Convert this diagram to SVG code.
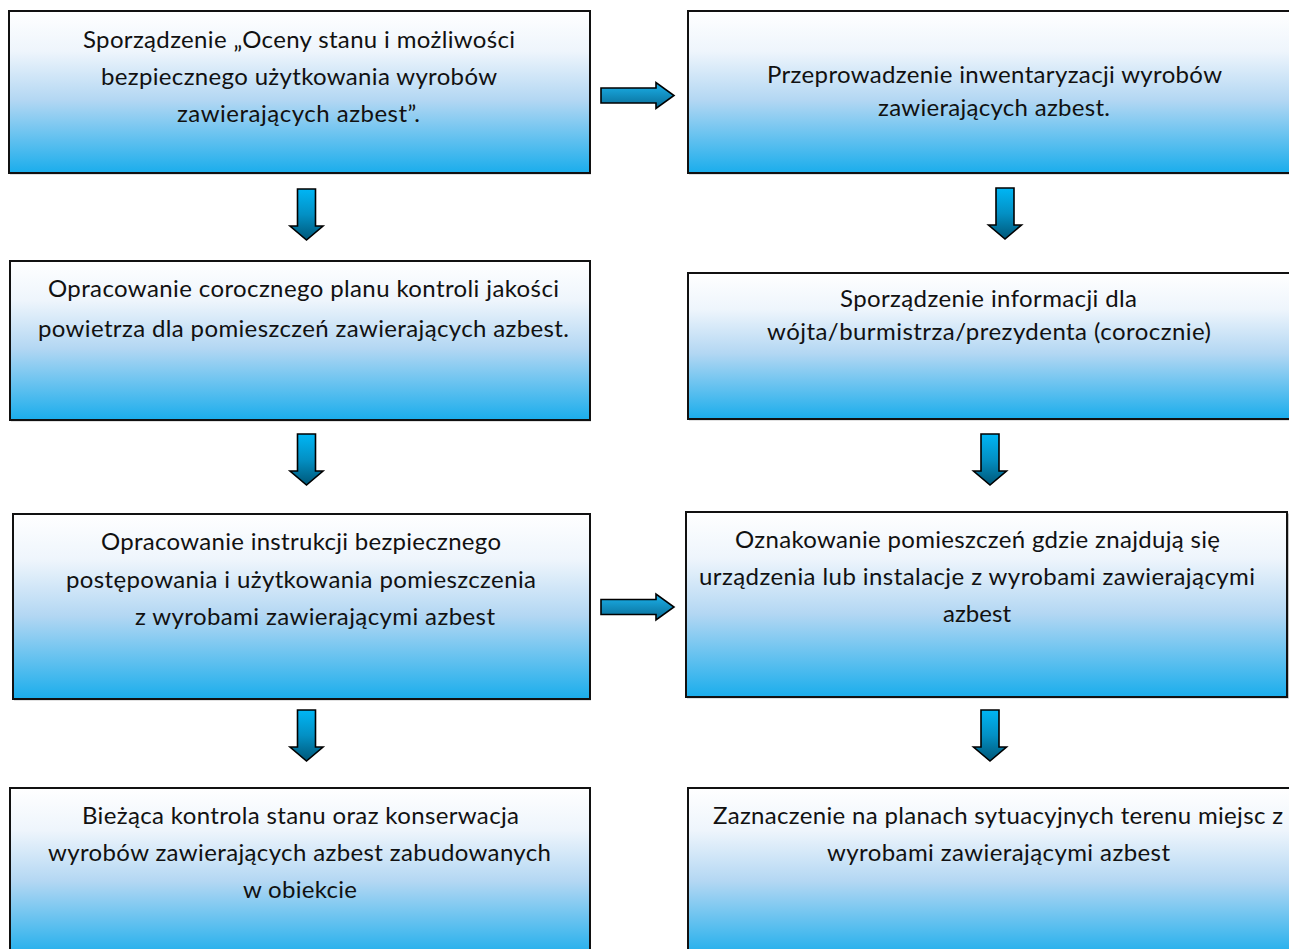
<svg xmlns="http://www.w3.org/2000/svg" xmlns:xlink="http://www.w3.org/1999/xlink" width="1289" height="949" viewBox="0 0 1289 949">
<style>
.box{fill:url(#boxGrad);stroke:#111;stroke-width:2}
.shadow{fill:#c4c4c4}
.t{font-family:Lato,"Open Sans","Liberation Sans",sans-serif;font-size:24px;fill:#111;text-anchor:middle}
.down{fill:url(#arrGradV);stroke:#000;stroke-width:1.6;stroke-linejoin:miter}
.right{fill:url(#arrGradH);stroke:#000;stroke-width:1.6;stroke-linejoin:miter}
</style>
<defs>
<linearGradient id="boxGrad" x1="0" y1="0" x2="0" y2="1">
<stop offset="0" stop-color="#ffffff"/>
<stop offset="0.25" stop-color="#eef5fc"/>
<stop offset="0.55" stop-color="#b3d7f3"/>
<stop offset="1" stop-color="#1aadec"/>
</linearGradient>
<linearGradient id="arrGradV" x1="0" y1="0" x2="0" y2="1">
<stop offset="0" stop-color="#00b6f5"/>
<stop offset="0.5" stop-color="#0390c4"/>
<stop offset="1" stop-color="#005778"/>
</linearGradient>
<linearGradient id="arrGradH" x1="0" y1="0" x2="0" y2="1">
<stop offset="0" stop-color="#1cb3ec"/>
<stop offset="1" stop-color="#086a94"/>
</linearGradient>
<path id="downArrow" d="M-9,0 H9 V37 H16.5 L0,51 L-16.5,37 H-9 Z"/>
<path id="rightArrow" d="M0,-7.5 H55 V-13 L73,0 L55,13 V7.5 H0 Z"/>
</defs>

<g id="connectors">
<use xlink:href="#rightArrow" class="right" transform="translate(601,95.5)"/>
<use xlink:href="#rightArrow" class="right" transform="translate(601,607)"/>
<use xlink:href="#downArrow" class="down" transform="translate(306.5,189)"/>
<use xlink:href="#downArrow" class="down" transform="translate(1005,188)"/>
<use xlink:href="#downArrow" class="down" transform="translate(306.5,434)"/>
<use xlink:href="#downArrow" class="down" transform="translate(990,434)"/>
<use xlink:href="#downArrow" class="down" transform="translate(306.5,710)"/>
<use xlink:href="#downArrow" class="down" transform="translate(990,710)"/>
</g>

<g id="node1">
<rect class="shadow" x="10" y="12.5" width="581" height="162"/>
<rect class="box" x="9" y="11" width="581" height="162"/>
<text class="t" x="299" y="48" textLength="432">Sporządzenie „Oceny stanu i możliwości</text>
<text class="t" x="299" y="85" textLength="396">bezpiecznego użytkowania wyrobów</text>
<text class="t" x="298.5" y="122" textLength="243">zawierających azbest”.</text>
</g>

<g id="node2">
<rect class="shadow" x="689" y="12.5" width="605" height="162"/>
<rect class="box" x="688" y="11" width="605" height="162"/>
<text class="t" x="994.5" y="83" textLength="455">Przeprowadzenie inwentaryzacji wyrobów</text>
<text class="t" x="994" y="116" textLength="232">zawierających azbest.</text>
</g>

<g id="node3">
<rect class="shadow" x="11" y="262.5" width="580" height="159"/>
<rect class="box" x="10" y="261" width="580" height="159"/>
<text class="t" x="303.5" y="297" textLength="511">Opracowanie corocznego planu kontroli jakości</text>
<text class="t" x="303.5" y="337" textLength="531">powietrza dla pomieszczeń zawierających azbest.</text>
</g>

<g id="node4">
<rect class="shadow" x="689" y="274.5" width="605" height="146"/>
<rect class="box" x="688" y="273" width="605" height="146"/>
<text class="t" x="988.5" y="307" textLength="297">Sporządzenie informacji dla</text>
<text class="t" x="989" y="340" textLength="444">wójta/burmistrza/prezydenta (corocznie)</text>
</g>

<g id="node5">
<rect class="shadow" x="14" y="515.5" width="577" height="185"/>
<rect class="box" x="13" y="514" width="577" height="185"/>
<text class="t" x="301" y="550" textLength="400">Opracowanie instrukcji bezpiecznego</text>
<text class="t" x="301" y="588" textLength="470">postępowania i użytkowania pomieszczenia</text>
<text class="t" x="315" y="625" textLength="360">z wyrobami zawierającymi azbest</text>
</g>

<g id="node6">
<rect class="shadow" x="687" y="513.5" width="602" height="185"/>
<rect class="box" x="686" y="512" width="601" height="185"/>
<text class="t" x="977.5" y="548" textLength="485">Oznakowanie pomieszczeń gdzie znajdują się</text>
<text class="t" x="977" y="585" textLength="556">urządzenia lub instalacje z wyrobami zawierającymi</text>
<text class="t" x="977" y="622" textLength="68">azbest</text>
</g>

<g id="node7">
<rect class="box" x="10" y="788" width="580" height="170"/>
<text class="t" x="300.5" y="824" textLength="437">Bieżąca kontrola stanu oraz konserwacja</text>
<text class="t" x="299.5" y="861" textLength="503">wyrobów zawierających azbest zabudowanych</text>
<text class="t" x="300" y="898" textLength="114">w obiekcie</text>
</g>

<g id="node8">
<rect class="box" x="688" y="788" width="605" height="170"/>
<text class="t" x="998" y="824" textLength="570">Zaznaczenie na planach sytuacyjnych terenu miejsc z</text>
<text class="t" x="998.5" y="861" textLength="343">wyrobami zawierającymi azbest</text>
</g>
</svg>
